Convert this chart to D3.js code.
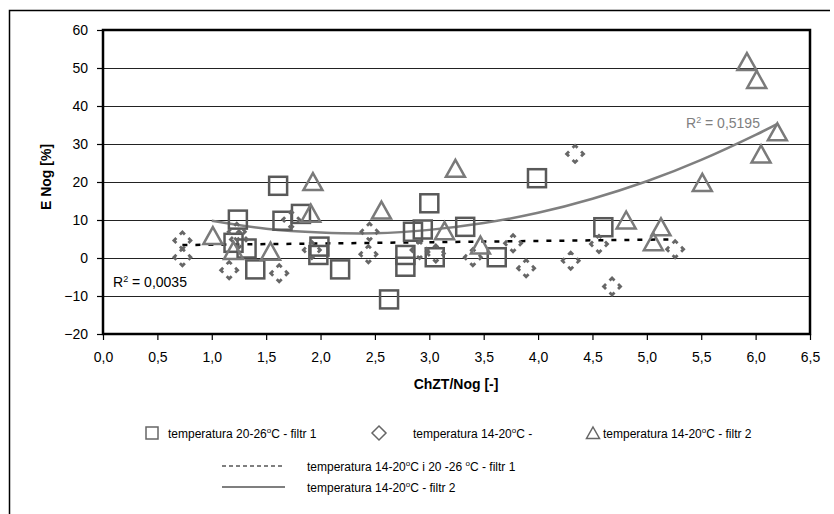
<!DOCTYPE html>
<html>
<head>
<meta charset="utf-8">
<script src="https://cdn.jsdelivr.net/npm/d3@7"></script>
<style>
  body { margin: 0; background: #fff; }
  text { font-family: "Liberation Sans", Arial, sans-serif; }
</style>
</head>
<body>
<div id="chart"></div>
<script>

// series: [ChZT/Nog, E Nog]
const filtr1Warm = [
    [1.24, 10.1], [1.20, 4.0], [1.32, 2.5], [1.40, -3.0], [1.61, 19.0], [1.65, 9.8],
    [1.82, 11.6], [1.99, 3.0], [1.98, 0.8], [2.18, -3.0], [2.63, -10.9], [2.78, 0.8],
    [2.78, -2.3], [2.85, 6.9], [2.94, 7.5], [3.00, 14.4], [3.05, 0.2], [3.33, 8.2],
    [3.62, 0.2], [3.99, 21.0], [4.60, 8.1]
];

const cold = [
    [0.73, 4.6], [0.73, 0.2], [1.16, -3.2], [1.23, 6.9], [1.25, 4.9], [1.62, -4.0],
    [1.73, 10.1], [1.92, 2.1], [2.45, 6.9], [2.44, 1.0], [2.91, 2.1], [3.06, 1.2],
    [3.40, 0.2], [3.77, 3.9], [3.89, -2.7], [4.30, -0.7], [4.34, 27.4], [4.56, 3.7],
    [4.68, -7.5], [5.26, 2.3]
];

const filtr2Cold = [
    [1.01, 5.9], [1.20, 2.0], [1.54, 1.8], [1.91, 11.8], [1.93, 20.1], [2.56, 12.6],
    [3.14, 7.2], [3.24, 23.6], [3.47, 3.4], [4.81, 10.0], [5.06, 4.3], [5.13, 8.2],
    [5.51, 19.9], [5.92, 51.7], [6.01, 47.0], [6.05, 27.4], [6.20, 33.2]
];

// trend lines
const trendFiltr1 = [[0.73, 3.4], [5.26, 4.9]];
const trendFiltr2 = [
    [1.0, 9.8], [1.5, 7.7], [2.0, 6.7], [2.5, 6.5], [3.0, 7.4], [3.5, 9.2], [4.0, 11.9],
    [4.5, 15.6], [5.0, 20.2], [5.5, 25.8], [6.0, 32.4], [6.2, 35.3]
];

const xTicks = [0, 0.5, 1, 1.5, 2, 2.5, 3, 3.5, 4, 4.5, 5, 5.5, 6, 6.5];
const yTicks = [-20, -10, 0, 10, 20, 30, 40, 50, 60];

const r2Filtr1 = "0,0035";
const r2Filtr2 = "0,5195";

const legendItems = [
    { shape: "square", label: "temperatura 20-26", tail: "C  - filtr 1" },
    { shape: "diamond", label: "temperatura 14-20", tail: "C -" },
    { shape: "triangle", label: "temperatura 14-20", tail: "C - filtr 2" }
];
const legendLines = [
    { dash: true, parts: ["temperatura 14-20", "o", "C i 20 -26 ", "o", "C - filtr 1"] },
    { dash: false, parts: ["temperatura 14-20", "o", "C  - filtr 2"] }
];

const dims = {
    width: 834,
    height: 514,
    left: 103,
    right: 810,
    top: 30,
    bottom: 334
};

const svg = d3.select("#chart")
    .append("svg")
    .attr("width", dims.width)
    .attr("height", dims.height);

svg.append("rect")
    .attr("width", dims.width)
    .attr("height", dims.height)
    .attr("fill", "#fff");

// outer frame (only top + left visible in the crop)
svg.append("path")
    .attr("d", `M9.5,514 L9.5,10.5 L830,10.5`)
    .attr("fill", "none")
    .attr("stroke", "#000")
    .attr("stroke-width", 1.5);

const xScale = d3.scaleLinear()
    .domain([0, 6.5])
    .range([dims.left, dims.right]);

const yScale = d3.scaleLinear()
    .domain([-20, 60])
    .range([dims.bottom, dims.top]);

const comma = d => d3.format(".1f")(d).replace(".", ",");

// grid
svg.append("g")
    .selectAll("line")
    .data(yTicks.slice(1, -1))
    .join("line")
    .attr("x1", dims.left)
    .attr("x2", dims.right)
    .attr("y1", d => Math.round(yScale(d)) + 0.5)
    .attr("y2", d => Math.round(yScale(d)) + 0.5)
    .attr("stroke", "#222")
    .attr("stroke-width", 1);

const xAxis = d3.axisBottom(xScale)
    .tickValues(xTicks)
    .tickFormat(comma)
    .tickSizeInner(6)
    .tickSizeOuter(0)
    .tickPadding(12);

const yAxis = d3.axisLeft(yScale)
    .tickValues(yTicks)
    .tickSizeInner(6)
    .tickSizeOuter(0)
    .tickPadding(9);

const xAxisGroup = svg.append("g")
    .attr("transform", `translate(0, ${dims.bottom})`)
    .call(xAxis);

const yAxisGroup = svg.append("g")
    .attr("transform", `translate(${dims.left}, 0)`)
    .call(yAxis);

[xAxisGroup, yAxisGroup].forEach(g => {
    g.select(".domain").remove();
    g.selectAll(".tick line").attr("stroke", "#000").attr("stroke-width", 1.2);
    g.selectAll(".tick text")
        .attr("fill", "#000")
        .style("font-size", "14px")
        .style("font-family", "'Liberation Sans', Arial, sans-serif");
});

// plot frame
svg.append("rect")
    .attr("x", dims.left)
    .attr("y", dims.top)
    .attr("width", dims.right - dims.left)
    .attr("height", dims.bottom - dims.top)
    .attr("fill", "none")
    .attr("stroke", "#000")
    .attr("stroke-width", 2.5);

// trend lines
svg.append("path")
    .datum(trendFiltr1)
    .attr("fill", "none")
    .attr("stroke", "#000")
    .attr("stroke-width", 2.5)
    .attr("stroke-dasharray", "5,8")
    .attr("d", d3.line()
        .x(d => xScale(d[0]))
        .y(d => yScale(d[1])));

svg.append("path")
    .datum(trendFiltr2)
    .attr("fill", "none")
    .attr("stroke", "#7f7f7f")
    .attr("stroke-width", 2.5)
    .attr("d", d3.line()
        .curve(d3.curveNatural)
        .x(d => xScale(d[0]))
        .y(d => yScale(d[1])));

// markers
const sq = 9;
svg.append("g")
    .selectAll("rect")
    .data(filtr1Warm)
    .join("rect")
    .attr("x", d => xScale(d[0]) - sq)
    .attr("y", d => yScale(d[1]) - sq)
    .attr("width", sq * 2)
    .attr("height", sq * 2)
    .attr("fill", "none")
    .attr("stroke", "#595959")
    .attr("stroke-width", 2.5);

const dm = 8.5;
const side = Math.SQRT2 * dm;
svg.append("g")
    .selectAll("path")
    .data(cold)
    .join("path")
    .attr("transform", d => `translate(${xScale(d[0])}, ${yScale(d[1])})`)
    .attr("d", `M0,${-dm} L${dm},0 L0,${dm} L${-dm},0 Z`)
    .attr("fill", "none")
    .attr("stroke", "#666")
    .attr("stroke-width", 2.8)
    .attr("stroke-dasharray", `7 ${side - 7}`)
    .attr("stroke-dashoffset", 3.5);

const tw = 9.5, th = 8.5;
svg.append("g")
    .selectAll("path")
    .data(filtr2Cold)
    .join("path")
    .attr("transform", d => `translate(${xScale(d[0])}, ${yScale(d[1])})`)
    .attr("d", `M0,${-th} L${tw},${th} L${-tw},${th} Z`)
    .attr("fill", "none")
    .attr("stroke", "#7a7a7a")
    .attr("stroke-width", 2.5)
    .attr("stroke-linejoin", "miter");

// R2 labels
const r2a = svg.append("text")
    .attr("x", 113)
    .attr("y", 287)
    .attr("fill", "#000")
    .style("font-size", "14px");
r2a.append("tspan").text("R");
r2a.append("tspan").text("2").attr("dy", -5).style("font-size", "9px");
r2a.append("tspan").text(` = ${r2Filtr1}`).attr("dy", 5);

const r2b = svg.append("text")
    .attr("x", 686)
    .attr("y", 128)
    .attr("fill", "#7f7f7f")
    .style("font-size", "14px");
r2b.append("tspan").text("R");
r2b.append("tspan").text("2").attr("dy", -5).style("font-size", "9px");
r2b.append("tspan").text(` = ${r2Filtr2}`).attr("dy", 5);

// axis titles
svg.append("text")
    .attr("x", 456)
    .attr("y", 389)
    .attr("text-anchor", "middle")
    .style("font-size", "14px")
    .style("font-weight", "bold")
    .text("ChZT/Nog [-]");

svg.append("text")
    .attr("transform", "translate(51, 177) rotate(-90)")
    .attr("text-anchor", "middle")
    .style("font-size", "14px")
    .style("font-weight", "bold")
    .text("E Nog [%]");

// legend
const legendY = 433;
const legendX = [152, 379, 593];
const legendTextX = [168, 413, 603];

legendItems.forEach((item, i) => {
    const g = svg.append("g").attr("transform", `translate(${legendX[i]}, ${legendY})`);
    if (item.shape === "square") {
        g.append("rect").attr("x", -6).attr("y", -6).attr("width", 12).attr("height", 12);
    } else if (item.shape === "diamond") {
        g.append("path").attr("d", "M0,-7 L7,0 L0,7 L-7,0 Z");
    } else {
        g.append("path").attr("d", "M0,-6 L6.5,5.5 L-6.5,5.5 Z");
    }
    g.selectAll("rect, path")
        .attr("fill", "none")
        .attr("stroke", "#666")
        .attr("stroke-width", 1.5);

    const t = svg.append("text")
        .attr("x", legendTextX[i])
        .attr("y", legendY + 4.5)
        .style("font-size", "12px");
    t.append("tspan").text(item.label);
    t.append("tspan").text("o").attr("dy", -5).style("font-size", "8px");
    t.append("tspan").text(item.tail).attr("dy", 5);
});

const lineRows = [466, 487];
legendLines.forEach((item, i) => {
    const y = lineRows[i];
    svg.append("line")
        .attr("x1", 222)
        .attr("x2", 285)
        .attr("y1", y)
        .attr("y2", y)
        .attr("stroke", item.dash ? "#000" : "#7f7f7f")
        .attr("stroke-width", item.dash ? 1.2 : 2)
        .attr("stroke-dasharray", item.dash ? "4,3" : null);

    const t = svg.append("text")
        .attr("x", 307)
        .attr("y", y + 4.5)
        .style("font-size", "12px");
    item.parts.forEach((p, j) => {
        const sup = p === "o";
        t.append("tspan")
            .text(p)
            .attr("dy", j === 0 ? 0 : (sup ? -5 : 5))
            .style("font-size", sup ? "8px" : null);
    });
});

</script>
</body>
</html>
